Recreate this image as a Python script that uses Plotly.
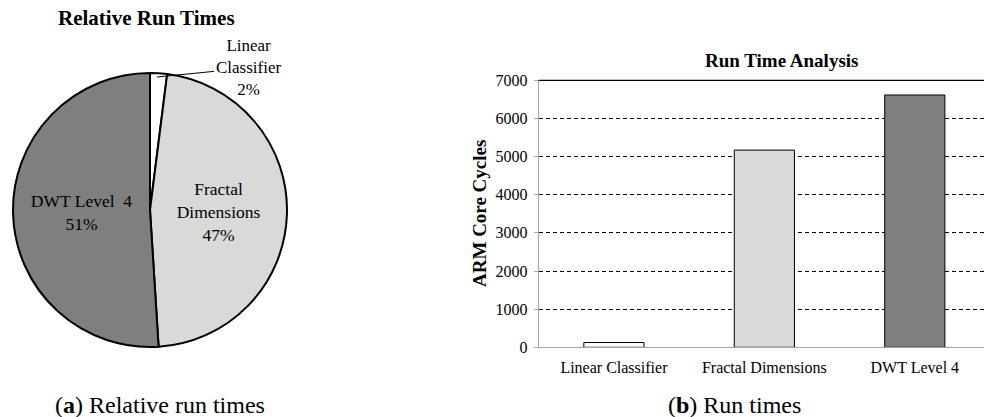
import plotly.graph_objects as go

# ---- data ----
categories = ["Linear Classifier", "Fractal Dimensions", "DWT Level 4"]
pie_label_text = ["Linear<br>Classifier", "Fractal<br>Dimensions", "DWT Level  4"]
pie_shares = [2, 47, 51]                 # percent
core_cycles = [125, 5170, 6615]          # ARM core cycles
y_tick_vals = [0, 1000, 2000, 3000, 4000, 5000, 6000, 7000]
y_tick_text = ["0", "1000", "2000", "3000", "4000", "5000", "6000", "7000"]

# ---- style ----
fills = ["#ffffff", "#d9d9d9", "#7f7f7f"]
SERIF = "Liberation Serif, Times New Roman, serif"
W, H = 984, 417

def px_x(p):
    return p / W

def px_y(p):
    return (H - p) / H

fig = go.Figure()

pie_text = [""] + [f"{t}<br>{v}%" for t, v in zip(pie_label_text[1:], pie_shares[1:])]
fig.add_trace(go.Pie(
    values=pie_shares,
    labels=categories,
    sort=False,
    direction="clockwise",
    rotation=0,
    marker=dict(colors=fills, line=dict(color="black", width=2)),
    text=pie_text,
    textinfo="text",
    textposition=["none", "inside", "inside"],
    insidetextorientation="horizontal",
    textfont=dict(family=SERIF, size=17.5, color="black"),
    domain=dict(x=[px_x(13), px_x(287)], y=[px_y(347), px_y(73)]),
    showlegend=False,
    hoverinfo="label+percent",
))

fig.add_trace(go.Bar(
    x=categories,
    y=core_cycles,
    width=0.4,
    marker=dict(color=fills, line=dict(color="black", width=1)),
    showlegend=False,
))

fig.update_layout(
    width=W, height=H,
    margin=dict(l=0, r=0, t=0, b=0),
    paper_bgcolor="white",
    plot_bgcolor="white",
    font=dict(family=SERIF, color="black"),
    xaxis=dict(
        domain=[px_x(538.7), 1.0],
        range=[-0.5, 2.46],
        showline=True, linecolor="#a6a6a6", linewidth=1,
        ticks="", showgrid=False, zeroline=False,
        tickfont=dict(family=SERIF, size=16, color="black"),
        ticklabelstandoff=5,
        automargin=False,
    ),
    yaxis=dict(
        domain=[px_y(347.3), px_y(80.3)],
        range=[0, 7000],
        tickvals=y_tick_vals, ticktext=y_tick_text,
        showline=True, linecolor="#a6a6a6", linewidth=1,
        ticks="outside", ticklen=4, tickcolor="#a6a6a6",
        showgrid=True, gridcolor="black", gridwidth=1, griddash="4px,3px",
        zeroline=False,
        tickfont=dict(family=SERIF, size=16, color="black"),
        ticklabelstandoff=3,
        automargin=False,
    ),
    shapes=[dict(type="line", xref="x domain", yref="y domain",
                 x0=0, x1=1, y0=1, y1=1, line=dict(color="black", width=1.3))],
)

ann = [
    dict(text="<b>Relative Run Times</b>", x=px_x(146), y=px_y(18),
         font=dict(size=21)),
    dict(text="<b>Run Time Analysis</b>", x=px_x(781), y=px_y(60),
         font=dict(size=19)),
    dict(text="<b>ARM Core Cycles</b>", x=px_x(480), y=px_y(214),
         textangle=-90, font=dict(size=19)),
    dict(text="(<b>a</b>) Relative run times", x=px_x(160), y=px_y(405),
         font=dict(size=24)),
    dict(text="(<b>b</b>) Run times", x=px_x(734), y=px_y(405),
         font=dict(size=24)),
]
for a in ann:
    a.update(xref="paper", yref="paper", showarrow=False,
             xanchor="center", yanchor="middle")
    a["font"].update(family=SERIF, color="black")

ann.append(dict(
    text=f"Linear<br>Classifier<br>{pie_shares[0]}%",
    xref="paper", yref="paper", x=px_x(157), y=px_y(77),
    ax=91, ay=-9, showarrow=True, arrowhead=0, arrowwidth=1,
    arrowcolor="black", standoff=0,
    font=dict(family=SERIF, size=17, color="black"),
))

fig.update_layout(annotations=ann)

fig.write_html("out.html",
               config={"displayModeBar": False},
               post_script="document.body.style.margin='0';document.body.style.overflow='hidden';")
